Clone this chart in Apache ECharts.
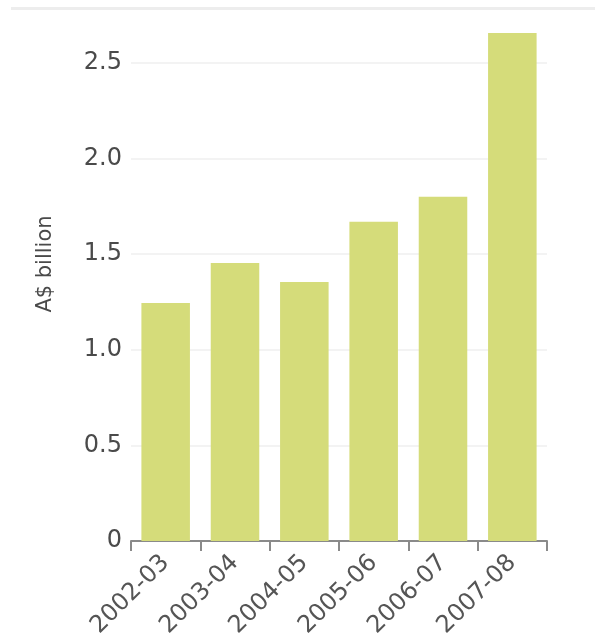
<!DOCTYPE html>
<html>
<head>
<meta charset="utf-8">
<script src="https://cdn.jsdelivr.net/npm/echarts@6/dist/echarts.min.js"></script>
<style>
html,body{margin:0;padding:0;background:#fff;}
#chart{width:595px;height:641px;}
</style>
</head>
<body>
<div id="chart"></div>
<script>
const categories = ['2002-03', '2003-04', '2004-05', '2005-06', '2006-07', '2007-08'];
const values = [1.245, 1.454, 1.355, 1.67, 1.80, 2.657];
const yTicks = [0, 0.5, 1.0, 1.5, 2.0, 2.5];
const yAxisTitle = 'A$ billion';

const chart = echarts.init(document.getElementById('chart'), null, {renderer: 'canvas'});
const font = 'DejaVu Sans';
chart.setOption({
  animation: false,
  backgroundColor: '#ffffff',
  grid: {left: 131, right: 48, top: 63, bottom: 100, containLabel: false, outerBoundsMode: 'none'},
  graphic: [
    {type: 'rect', shape: {x: 11, y: 7, width: 584, height: 3}, style: {fill: '#ededed'}},
    {type: 'text', x: 46, y: 264, rotation: Math.PI / 2,
     style: {text: yAxisTitle, font: '21px "DejaVu Sans"', fill: '#4a4a4a', align: 'center', verticalAlign: 'middle'}}
  ],
  xAxis: {
    type: 'category',
    data: categories,
    axisLine: {show: true, lineStyle: {color: '#8a8a8a', width: 2}},
    axisTick: {show: true, length: 10, interval: 0, alignWithLabel: false, lineStyle: {color: '#8a8a8a', width: 2}},
    axisLabel: {rotate: 45, margin: 18, interval: 0, fontFamily: font, fontSize: 24, color: '#555'},
    splitLine: {show: false}
  },
  yAxis: {
    type: 'value',
    min: yTicks[0], max: yTicks[yTicks.length - 1], interval: yTicks[1] - yTicks[0],
    axisLine: {show: false},
    axisTick: {show: false},
    axisLabel: {margin: 9, fontFamily: font, fontSize: 24, color: '#4a4a4a',
      formatter: v => v === 0 ? '0' : v.toFixed(1)},
    splitLine: {show: true, lineStyle: {color: '#f3f3f3', width: 2}}
  },
  series: [{
    type: 'bar',
    data: values,
    barCategoryGap: '30%',
    clip: false,
    itemStyle: {color: '#d5dc7a'}
  }]
});
</script>
</body>
</html>
